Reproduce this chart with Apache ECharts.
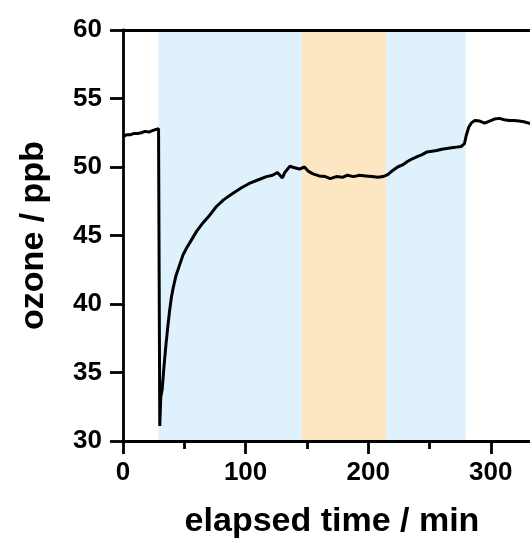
<!DOCTYPE html>
<html>
<head>
<meta charset="utf-8">
<script src="https://cdn.jsdelivr.net/npm/echarts@6/dist/echarts.min.js"></script>
<style>
    html, body { margin: 0; padding: 0; background: #fff; }
    #chart { width: 530px; height: 545px; }
</style>
</head>
<body>
<div id="chart"></div>
<script>
// Ozone trace (minutes, ppb)
const timeMin = [
    0, 3, 6, 9, 12, 15, 18, 21, 24, 27, 29,
    30, 30.8, 32, 33.5, 35, 36.5, 38, 39.5, 41, 43, 46, 49, 52, 56, 60, 65, 70, 76, 82, 90, 97,
    103, 110, 117, 122, 126, 128, 130, 132, 136, 140, 144, 148,
    151, 155, 160, 165, 169, 174, 179, 183, 188, 193, 198, 203, 208, 212,
    216, 220, 224, 228, 232, 236, 240, 244, 248, 252, 256, 260, 264, 268, 272, 276, 278.5,
    280, 282, 284, 287, 291, 295, 299, 303, 307, 311, 315, 319, 323, 327, 331, 335
];
const ozonePpb = [
    52.2, 52.35, 52.35, 52.45, 52.45, 52.5, 52.6, 52.55, 52.65, 52.75, 52.8,
    31.1, 33.2, 33.8, 35.5, 37.0, 38.3, 39.5, 40.5, 41.2, 42.0, 42.8, 43.6, 44.1, 44.7, 45.3, 45.9, 46.4, 47.1, 47.6, 48.1, 48.5,
    48.8, 49.05, 49.3, 49.4, 49.6, 49.4, 49.2, 49.6, 50.05, 49.95, 49.85, 50.0,
    49.7, 49.5, 49.35, 49.3, 49.15, 49.3, 49.25, 49.4, 49.3, 49.4, 49.35, 49.3, 49.25, 49.3,
    49.45, 49.75, 50.0, 50.15, 50.4, 50.6, 50.75, 50.9, 51.1, 51.15, 51.2, 51.3, 51.35, 51.4, 51.45, 51.5, 51.7,
    52.3, 52.9, 53.2, 53.4, 53.35, 53.2, 53.35, 53.5, 53.55, 53.45, 53.4, 53.4, 53.35, 53.3, 53.2, 53.15
];

// Shaded periods (start, end in minutes)
const blueBands = [[29, 146], [214.5, 279.5]];
const orangeBands = [[146, 214.5]];

const xTicks = [0, 100, 200, 300];
const xMinorTicks = [50, 150, 250];
const yTicks = [30, 35, 40, 45, 50, 55, 60];

const chart = echarts.init(document.getElementById('chart'));

const font = '"Liberation Sans", Arial, Helvetica, sans-serif';
const black = { color: '#000', width: 2.8 };
const X_MAX = 332; // the figure is cut off at the right

const bandAreas = [
    ...blueBands.map(b => [{ xAxis: b[0], itemStyle: { color: '#dff1fd' } }, { xAxis: b[1] }]),
    ...orangeBands.map(b => [{ xAxis: b[0], itemStyle: { color: '#fde7c2' } }, { xAxis: b[1] }])
];

const option = {
    animation: false,
    backgroundColor: '#fff',
    grid: { left: 123, right: 0, top: 30, bottom: 104, containLabel: false },
    xAxis: [
        {
            type: 'value',
            min: 0,
            max: X_MAX,
            z: 10,
            name: 'elapsed time / min',
            nameLocation: 'middle',
            nameGap: 64,
            nameTextStyle: {
                fontFamily: font, fontWeight: 'bold', fontSize: 34, color: '#000',
                padding: [0, 0, 0, 11]
            },
            axisLine: { lineStyle: black },
            axisTick: { length: 13, lineStyle: black, customValues: xTicks },
            splitLine: { show: false },
            axisLabel: {
                margin: 19,
                fontFamily: font, fontWeight: 'bold', fontSize: 26, color: '#000',
                customValues: xTicks
            }
        },
        {
            // short ticks between the labelled ones
            type: 'value',
            min: 0,
            max: X_MAX,
            position: 'bottom',
            z: 10,
            axisLine: { show: false },
            axisTick: { length: 8, lineStyle: black, customValues: xMinorTicks },
            axisLabel: { show: false },
            splitLine: { show: false }
        },
        {
            // top frame line
            type: 'value',
            position: 'top',
            min: 0,
            max: X_MAX,
            z: 10,
            axisLine: { lineStyle: black },
            axisTick: { show: false },
            axisLabel: { show: false },
            splitLine: { show: false }
        }
    ],
    yAxis: {
        type: 'value',
        min: 30,
        max: 60,
        interval: 5,
        z: 10,
        name: 'ozone / ppb',
        nameLocation: 'middle',
        nameRotate: 90,
        nameGap: 72,
        nameTextStyle: { fontFamily: font, fontWeight: 'bold', fontSize: 34, color: '#000' },
        axisLine: { lineStyle: black },
        axisTick: { length: 13, lineStyle: black },
        splitLine: { show: false },
        axisLabel: {
            margin: 21,
            fontFamily: font, fontWeight: 'bold', fontSize: 26, color: '#000',
            customValues: yTicks
        }
    },
    series: [
        {
            // background shading only
            type: 'line',
            data: [],
            silent: true,
            markArea: { silent: true, data: bandAreas }
        },
        {
            type: 'line',
            data: timeMin.map((t, i) => [t, ozonePpb[i]]),
            showSymbol: false,
            symbol: 'none',
            lineStyle: { color: '#000', width: 3 },
            z: 5
        }
    ]
};

chart.setOption(option);
</script>
</body>
</html>
